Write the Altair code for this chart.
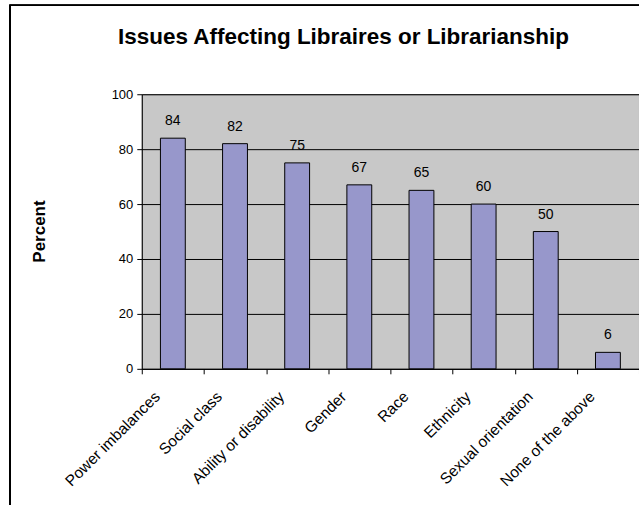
import altair as alt
import pandas as pd

categories = ["Power imbalances", "Social class", "Ability or disability", "Gender",
              "Race", "Ethnicity", "Sexual orientation", "None of the above"]
percents = [84, 82, 75, 67, 65, 60, 50, 6]
y_ticks = [0, 20, 40, 60, 80, 100]

df = pd.DataFrame({"Issue": categories, "Percent": percents})

FONT = "Liberation Sans"

x_enc = alt.X("Issue:N", sort=categories,
              scale=alt.Scale(paddingInner=0, paddingOuter=0),
              axis=alt.Axis(title=None, labelAngle=-45, labelAlign="right",
                            labelBaseline="top", labelOffset=-21, labelPadding=15,
                            labelFontSize=15.5, labelFont=FONT, labelColor="#000000",
                            tickBand="extent", ticks=True, tickSize=5,
                            tickColor="#000000", domainColor="#000000",
                            labelLimit=300, grid=False))
y_enc = alt.Y("Percent:Q", scale=alt.Scale(domain=[0, 100], nice=False),
              axis=alt.Axis(values=y_ticks, title="Percent", titleFont=FONT,
                            titleFontSize=17, titleFontWeight="bold",
                            titleColor="#000000", titleAngle=-90,
                            titleX=-102, titleY=137, titleAlign="center",
                            titleBaseline="middle",
                            labelFont=FONT, labelFontSize=13, labelColor="#000000",
                            labelPadding=4, tickSize=5, tickColor="#000000",
                            domainColor="#000000", grid=True, gridColor="#000000",
                            gridOpacity=1))

base = alt.Chart(df)

bars = base.mark_bar(color="#9797cb", stroke="#000000", strokeWidth=1,
                     width=alt.RelativeBandSize(0.4)).encode(x=x_enc, y=y_enc)

labels = base.mark_text(font=FONT, fontSize=14, color="#000000",
                        baseline="alphabetic", dy=-13).encode(
    x=alt.X("Issue:N", sort=categories), y="Percent:Q", text="Percent:Q")

frame = base.mark_rect(fill=None, stroke="#000000", strokeWidth=1.2,
                       clip=False).encode(
    x=alt.value(-132), x2=alt.value(520), y=alt.value(-89), y2=alt.value(430))

chart = alt.layer(frame, bars, labels).properties(
    width=498, height=275,
    background="#ffffff",
    autosize=alt.AutoSizeParams(type="none"),
    padding={"left": 142, "top": 94, "right": 0, "bottom": 136},
    title=alt.TitleParams("Issues Affecting Libraires or Librarianship",
                          font=FONT, fontSize=22.5, fontWeight="bold",
                          color="#000000", anchor="middle", dx=-47,
                          offset=-62, baseline="alphabetic"),
).configure_view(fill="#c8c8c8", stroke="#808080", strokeWidth=1)

chart.save("out.html", embed_options={"renderer": "svg", "actions": False})
